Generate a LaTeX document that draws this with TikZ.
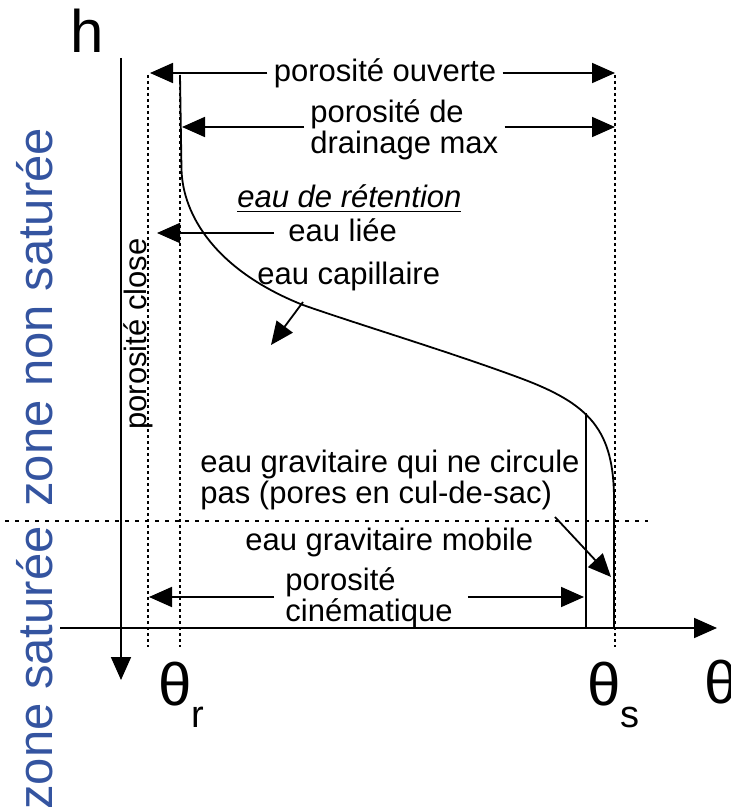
\documentclass[tikz,border=0pt]{standalone}
\usepackage{fontspec}
\setmainfont{Liberation Sans}
\usetikzlibrary{arrows.meta}
\definecolor{bleuzone}{RGB}{52,84,160}

\begin{document}
\begin{tikzpicture}[x=0.5pt,y=-0.5pt,
  fleche/.style={-{Triangle[length=11.5pt,width=10pt]},line width=0.9pt},
  pointille/.style={line width=0.6pt,dash pattern=on 1.5pt off 1.5pt},
  etiq/.style={font=\fontsize{15.5}{14}\selectfont,inner sep=3pt,align=left},
  grand/.style={font=\fontsize{30}{30}\selectfont,inner sep=0pt,anchor=base west},
  zone/.style={font=\fontsize{24.5}{24.5}\selectfont,text=bleuzone,rotate=90,inner sep=0pt,anchor=base west}]
\useasboundingbox (0,0) rectangle (731,812);

% axes
\coordinate (hhaut) at (121,58);
\coordinate (hbas) at (121,680);
\coordinate (tgauche) at (60,628);
\coordinate (tdroite) at (717,628);
\draw[fleche] (hhaut) -- (hbas);
\draw[fleche] (tgauche) -- (tdroite);
\node[grand] (h) at (70,53) {h};
\node[grand] (thetar) at (158,705) {θ\raisebox{-11pt}{\fontsize{19}{19}\selectfont r}};
\node[grand] (thetas) at (587,705) {θ\raisebox{-11pt}{\fontsize{19}{19}\selectfont s}};
\node[grand] (theta) at (704,703) {θ};

% pointilles
\draw[pointille] (148,75) -- (148,647);
\draw[pointille] (180,75) -- (180,647);
\draw[pointille] (615,75) -- (615,647);
\draw[line width=0.7pt,dash pattern=on 2pt off 3pt] (5,521) -- (648,521);

% courbe de retention
\draw[line width=0.9pt] (180,75) -- (181.5,170) .. controls (183,215) and (215,270) .. (303,305)
  .. controls (360,325) and (450,352) .. (520,378) .. controls (590,404) and (614,430) .. (614,500) -- (614,628);
\draw[line width=0.7pt] (586,413) -- (586,628);

% zones
\node[zone] (nonsat) at (52,507) {zone non saturée};
\node[zone] (sat) at (52,810) {zone saturée};
\node[etiq,rotate=90,anchor=base west] (close) at (146,436) {porosité close};

% porosites
\node[etiq,anchor=base] (ouverte) at (385,82) {porosité ouverte};
\coordinate (ouvG) at (150,73);
\coordinate (ouvD) at (615,73);
\draw[fleche] (ouverte.west |- ouvG) -- (ouvG);
\draw[fleche] (ouverte.east |- ouvD) -- (ouvD);

\node[etiq,anchor=west] (drainage) at (304,130) {porosité de\\drainage max};
\coordinate (drG) at (182,127);
\coordinate (drD) at (615,127);
\draw[fleche] (drainage.west |- drG) -- (drG);
\draw[fleche] (drainage.east |- drD) -- (drD);

\node[etiq,anchor=west] (cinematique) at (279,598) {porosité\\cinématique};
\coordinate (ciG) at (149,597);
\coordinate (ciD) at (584,597);
\draw[fleche] ([xshift=-2.5pt]cinematique.west |- ciG) -- (ciG);
\draw[fleche] ([xshift=4.5pt]cinematique.east |- ciD) -- (ciD);

% eaux
\node[etiq,anchor=base west] (retention) at (231,208) {\underline{\textit{eau de rétention}}};
\node[etiq,anchor=base west] (liee) at (282,242) {eau liée};
\coordinate (lieeG) at (157,233);
\draw[fleche] ([xshift=-4pt]liee.west |- lieeG) -- (lieeG);

\node[etiq,anchor=base west] (capillaire) at (251,285) {eau capillaire};
\coordinate (capA) at (303,302);
\coordinate (capB) at (271,345);
\draw[fleche] (capA) -- (capB);

\node[etiq,anchor=west] (culdesac) at (194,480) {eau gravitaire qui ne circule\\pas (pores en cul-de-sac)};
\coordinate (cuA) at (555,517);
\coordinate (cuB) at (611,577);
\draw[fleche] (cuA) -- (cuB);

\node[etiq,anchor=base west] (mobile) at (239,550) {eau gravitaire mobile};
\end{tikzpicture}
\end{document}
